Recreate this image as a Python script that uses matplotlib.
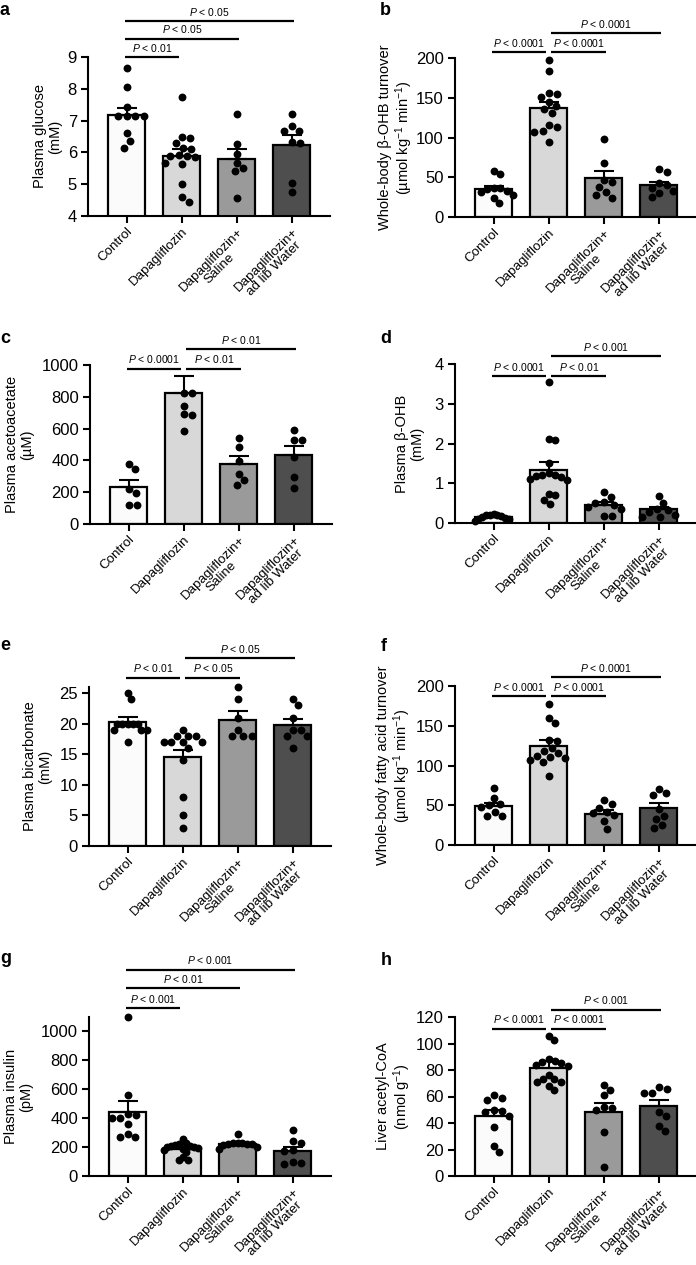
import numpy as np
import matplotlib
matplotlib.use("Agg")
import matplotlib.pyplot as plt

plt.rcParams['font.family'] = ['Liberation Sans', 'DejaVu Sans']
plt.rcParams['mathtext.fontset'] = 'custom'
plt.rcParams['mathtext.rm'] = 'Liberation Sans'
plt.rcParams['mathtext.it'] = 'Liberation Sans:italic'

groups = ['Control', 'Dapagliflozin', 'Dapagliflozin+\nSaline', 'Dapagliflozin+\nad lib Water']
bar_colors = ['#fbfbfb', '#d8d8d8', '#9a9a9a', '#4e4e4e']

# a: plasma glucose (mM)
glucose_pts = [[8.65, 8.05, 7.42, 7.15, 7.15, 7.15, 7.15, 6.6, 6.35, 6.15],
               [7.74, 6.5, 6.45, 6.3, 6.15, 6.12, 5.92, 5.9, 5.88, 5.85, 5.68, 5.65, 5.0, 4.6, 4.45],
               [7.21, 6.26, 5.95, 5.68, 5.5, 5.42, 4.56],
               [7.21, 6.83, 6.68, 6.68, 6.33, 6.3, 5.05, 4.75]]
glucose_mean = [7.18, 5.89, 5.79, 6.23]
glucose_sem = [0.23, 0.21, 0.33, 0.32]
glucose_p = [(0, 1, 'P < 0.01'), (0, 2, 'P < 0.05'), (0, 3, 'P < 0.05')]

# b: whole-body b-OHB turnover
bohb_turn_pts = [[58, 54, 37, 36, 35, 33, 31, 28, 24, 18],
                 [198, 184, 156, 155, 151, 145, 140, 136, 131, 116, 113, 108, 107, 94],
                 [98, 68, 47, 44, 38, 32, 28, 24],
                 [60, 56, 43, 40, 36, 33, 30, 25]]
bohb_turn_mean = [35.3, 137, 49.6, 40.3]
bohb_turn_sem = [4.2, 8, 8.8, 4.2]
bohb_turn_p = [(0, 1, 'P < 0.0001'), (1, 2, 'P < 0.0001'), (1, 3, 'P < 0.0001')]

# c: plasma acetoacetate (uM)
acac_pts = [[379, 345, 221, 196, 122, 122],
            [825, 821, 745, 690, 684, 585],
            [543, 484, 396, 312, 274, 248],
            [590, 531, 531, 421, 295, 225]]
acac_mean = [232, 825, 375, 432]
acac_sem = [42, 105, 50, 56]
acac_p = [(0, 1, 'P < 0.0001'), (1, 2, 'P < 0.01'), (1, 3, 'P < 0.01')]

# d: plasma b-OHB (mM)
bohb_pts = [[0.22, 0.21, 0.2, 0.2, 0.18, 0.16, 0.13, 0.11, 0.09, 0.06],
            [3.54, 2.11, 2.08, 1.5, 1.25, 1.22, 1.2, 1.18, 1.15, 1.1, 1.08, 0.73, 0.7, 0.58, 0.47],
            [0.77, 0.65, 0.52, 0.5, 0.45, 0.4, 0.35, 0.18, 0.18],
            [0.68, 0.5, 0.35, 0.32, 0.28, 0.2, 0.15, 0.15]]
bohb_mean = [0.16, 1.34, 0.46, 0.34]
bohb_sem = [0.02, 0.19, 0.06, 0.07]
bohb_p = [(0, 1, 'P < 0.0001'), (1, 2, 'P < 0.01'), (1, 3, 'P < 0.001')]

# e: plasma bicarbonate (mM)
bicarb_pts = [[25, 24, 20, 20, 20, 20, 20, 19, 19, 19, 17],
              [19, 18, 18, 18, 17, 17, 17, 17, 16, 14, 8, 5, 3],
              [26, 24, 21, 19, 18, 18, 18],
              [24, 23, 21, 19, 19, 18, 18, 16]]
bicarb_mean = [20.3, 14.5, 20.6, 19.8]
bicarb_sem = [0.8, 1.2, 1.4, 0.9]
bicarb_p = [(0, 1, 'P < 0.01'), (1, 2, 'P < 0.05'), (1, 3, 'P < 0.05')]

# f: whole-body fatty acid turnover
fa_pts = [[72, 59, 52, 50, 48, 42, 37, 37],
          [177, 160, 154, 132, 131, 122, 118, 116, 112, 111, 110, 107, 105, 87],
          [56, 52, 47, 42, 40, 38, 30, 20],
          [71, 66, 63, 45, 37, 33, 25, 22]]
fa_mean = [49.2, 125, 39.5, 46.6]
fa_sem = [4.2, 7, 5, 6.8]
fa_p = [(0, 1, 'P < 0.0001'), (1, 2, 'P < 0.0001'), (1, 3, 'P < 0.0001')]

# g: plasma insulin (pM)
insulin_pts = [[1098, 561, 430, 420, 400, 400, 360, 292, 268, 268],
               [255, 225, 220, 215, 210, 205, 200, 200, 195, 190, 180, 165, 130, 110, 110],
               [290, 230, 228, 226, 224, 222, 220, 215, 200, 190],
               [320, 240, 225, 180, 175, 95, 90, 85]]
insulin_mean = [446, 185, 220, 175]
insulin_sem = [76, 12, 10, 25]
insulin_p = [(0, 1, 'P < 0.001'), (0, 2, 'P < 0.01'), (0, 3, 'P < 0.001')]

# h: liver acetyl-CoA
acoa_pts = [[61, 59, 57, 50, 49, 48, 45, 37, 23, 18],
            [106, 103, 88, 87, 86, 85, 84, 83, 76, 73, 73, 71, 71, 68, 65],
            [69, 65, 61, 52, 51, 50, 33, 7],
            [67, 66, 63, 63, 48, 45, 38, 34]]
acoa_mean = [45.6, 81.5, 48.6, 53.2]
acoa_sem = [4.4, 5.3, 6.6, 4.5]
acoa_p = [(0, 1, 'P < 0.0001'), (1, 2, 'P < 0.0001'), (1, 3, 'P < 0.001')]

W, H = 696, 1265
fig = plt.figure(figsize=(W / 100, H / 100), dpi=100)


def swarm(ax, xc, vals, diam=8.5, maxw=19.0):
    # GraphPad-like scatter: spread close values sideways (pixel space), kept inside the bar
    xy = ax.transData.transform(np.column_stack([np.full(len(vals), xc), vals]))
    ppu = ax.transData.transform([[1, 0]])[0, 0] - ax.transData.transform([[0, 0]])[0, 0]
    ys = xy[:, 1]
    offs = np.zeros(len(vals))
    placed = []
    for i in np.argsort(-np.asarray(vals), kind='stable'):
        blocked = []
        for px, py in placed:
            dy = abs(py - ys[i])
            if dy < diam:
                dx = np.sqrt(diam ** 2 - dy ** 2)
                blocked.append((px - dx, px + dx))
        cands = [0.0] + [b for iv in blocked for b in iv]
        cands.sort(key=lambda c: (round(abs(c), 3), -c))
        for c in cands:
            if all(not (lo + 1e-6 < c < hi - 1e-6) for lo, hi in blocked):
                offs[i] = c
                break
        placed.append((offs[i], ys[i]))
    m = np.abs(offs).max()
    if m > maxw:
        offs = offs * maxw / m
    return xc + offs / ppu


def panel(L, B, ylim, yticks, pts, mean, sem, pvals, plevels, ylabel, lab_off, letter, letter_xy, width=242):
    ax = fig.add_axes([L / W, 1 - B / H, width / W, 159 / H])
    x = np.arange(4)
    ax.bar(x, mean, width=0.68, color=bar_colors, edgecolor='black', linewidth=1.6, zorder=1)
    ax.errorbar(x, mean, yerr=[np.zeros(4), sem], fmt='none', ecolor='black',
                elinewidth=1.5, capsize=7, capthick=1.5, zorder=2)
    ax.set_xlim(-0.7, 3.7 if width == 242 else 3.66)
    ax.set_ylim(*ylim)
    ax.set_yticks(yticks)
    for i in range(4):
        xs = swarm(ax, i, pts[i])
        ax.scatter(xs, pts[i], s=32, color='black', zorder=3, clip_on=False, linewidths=0)
    for (i, j, txt), lev in zip(pvals, plevels):
        x1 = i + (0.05 if i == 1 else -0.03)
        x2 = j - (0.05 if j == 1 else -0.05)
        ax.plot([x1, x2], [lev, lev], color='black', lw=1.6, clip_on=False, solid_capstyle='butt')
        ax.annotate('$P$' + txt[1:], ((x1 + x2) / 2, lev), xytext=(0, 2.5), textcoords='offset points',
                    ha='center', va='bottom', fontsize=7.5, annotation_clip=False)
    ax.set_xticks(x)
    ax.set_xticklabels(groups, rotation=45, ha='right', va='top', rotation_mode='anchor',
                       multialignment='center', fontsize=9.6, linespacing=1.0)
    ax.tick_params(direction='out', length=5, width=1.5, labelsize=12, pad=3)
    ax.tick_params(axis='x', labelsize=9.6, pad=2)
    for s in ['top', 'right']:
        ax.spines[s].set_visible(False)
    for s in ['left', 'bottom']:
        ax.spines[s].set_linewidth(1.5)
    ax.set_ylabel(ylabel, fontsize=10.5, linespacing=1.1)
    ax.yaxis.set_label_coords(lab_off / width, 0.5)
    fig.text(letter_xy[0] / W, 1 - letter_xy[1] / H, letter, fontsize=13, fontweight='bold', va='baseline')
    return ax


panel(88, 216, (4, 9), np.arange(4, 10, 1), glucose_pts, glucose_mean, glucose_sem, glucose_p,
      [9.0, 9.58, 10.12], 'Plasma glucose\n(mM)', -26, 'a', (0, 15))
panel(455, 217, (0, 200), np.arange(0, 201, 50), bohb_turn_pts, bohb_turn_mean, bohb_turn_sem, bohb_turn_p,
      [207, 207, 231], 'Whole-body β-OHB turnover\n(µmol kg$^{-1}$ min$^{-1}$)', -40, 'b', (380, 15), width=240)
panel(90, 524, (0, 1000), np.arange(0, 1001, 200), acac_pts, acac_mean, acac_sem, acac_p,
      [977, 977, 1100], 'Plasma acetoacetate\n(µM)', -56, 'c', (0, 343))
panel(455, 523, (0, 4), np.arange(0, 5, 1), bohb_pts, bohb_mean, bohb_sem, bohb_p,
      [3.69, 3.69, 4.19], 'Plasma β-OHB\n(mM)', -31, 'd', (380, 343), width=240)
panel(89, 846, (0, 26), np.arange(0, 26, 5), bicarb_pts, bicarb_mean, bicarb_sem, bicarb_p,
      [27.5, 27.5, 30.7], 'Plasma bicarbonate\n(mM)', -37, 'e', (0, 650))
panel(455, 845, (0, 200), np.arange(0, 201, 50), fa_pts, fa_mean, fa_sem, fa_p,
      [187, 187, 211], 'Whole-body fatty acid turnover\n(µmol kg$^{-1}$ min$^{-1}$)', -42, 'f', (381, 651), width=240)
panel(89, 1176, (0, 1100), np.arange(0, 1001, 200), insulin_pts, insulin_mean, insulin_sem, insulin_p,
      [1160, 1299, 1428], 'Plasma insulin\n(pM)', -56, 'g', (0, 963))
panel(455, 1176, (0, 120), np.arange(0, 121, 20), acoa_pts, acoa_mean, acoa_sem, acoa_p,
      [111, 111, 125.5], 'Liver acetyl-CoA\n(nmol g$^{-1}$)', -42, 'h', (381, 965), width=240)

fig.savefig('out.png', dpi=100)
